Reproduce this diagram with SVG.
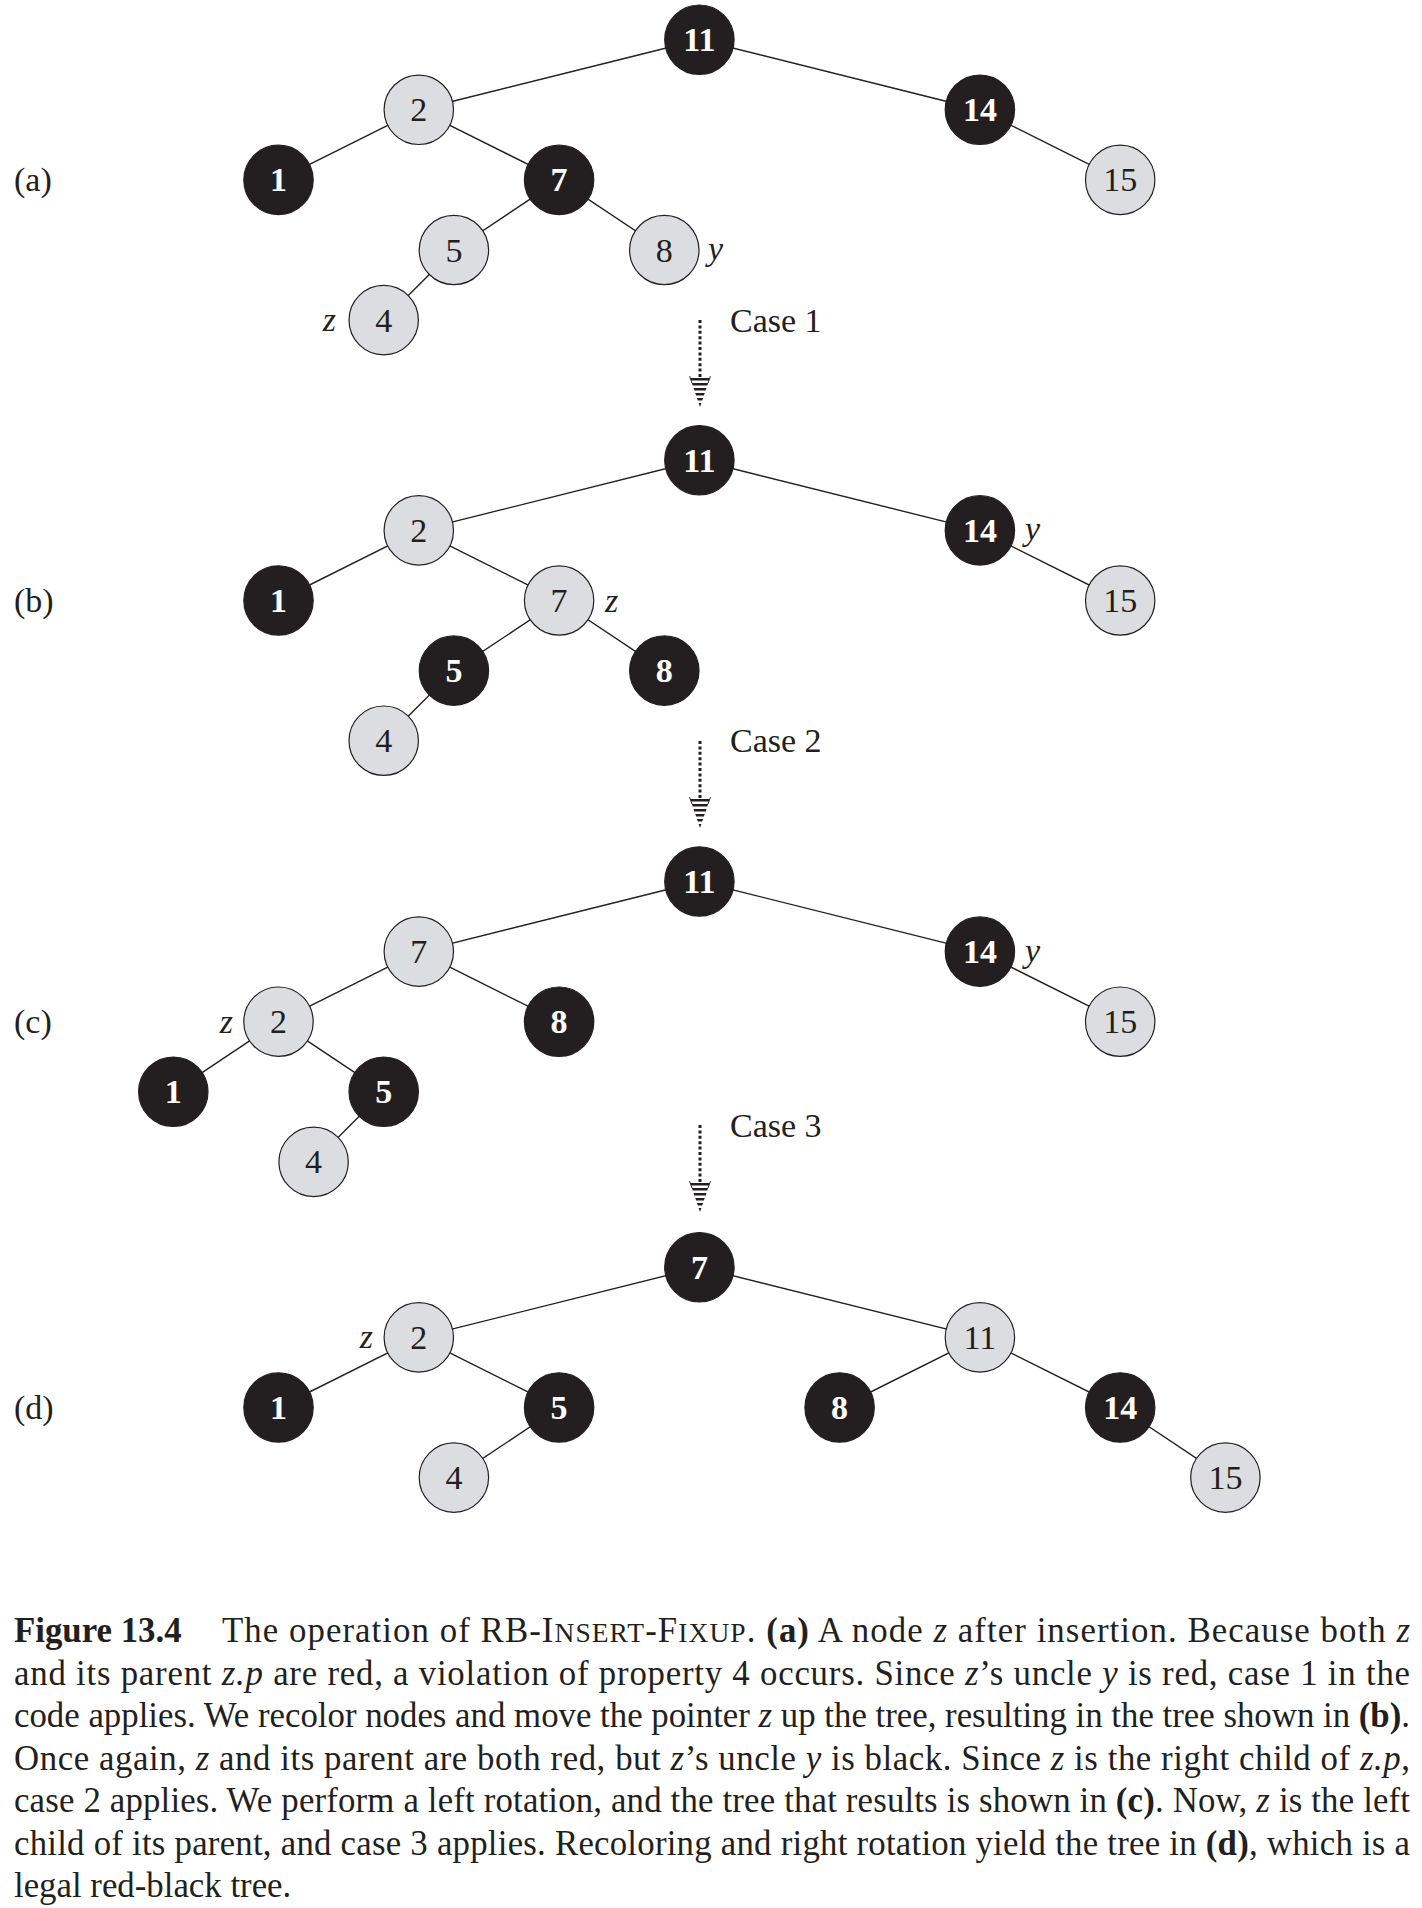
<svg xmlns="http://www.w3.org/2000/svg" xmlns:xlink="http://www.w3.org/1999/xlink" width="1422" height="1908" viewBox="0 0 1422 1908">
<style>
.e{stroke:#231f20;stroke-width:1.4;fill:none}
.r{fill:#dcdde0;stroke:#231f20;stroke-width:1.2}
.b{fill:#231f20;stroke:#231f20;stroke-width:1.2}
.rt{font-family:"Liberation Serif",serif;font-size:34px;fill:#231f20;text-anchor:middle}
.bt{font-family:"Liberation Serif",serif;font-size:34px;font-weight:bold;fill:#fff;text-anchor:middle}
.lab{font-family:"Liberation Serif",serif;font-size:34px;fill:#231f20}
.it{font-family:"Liberation Serif",serif;font-size:34px;font-style:italic;fill:#231f20}
.cap{font-family:"Liberation Serif",serif;font-size:34.8px;fill:#231f20}
.bo{font-weight:bold}
.i{font-style:italic}
.sc{font-size:27.5px}
.dot{stroke:#231f20;stroke-width:3;stroke-dasharray:3 2.4;fill:none}
.ah{fill:#231f20}
.barb{stroke:#231f20;stroke-width:0.9;fill:none}
</style>
<defs>
<g id="arrow">
<line class="dot" x1="0" y1="0" x2="0" y2="58"/>
<polygon class="ah" points="-9.82,58 9.82,58 8.98,60.5 -8.98,60.5"/>
<polygon class="ah" points="-8.13,63 8.13,63 7.28,65.5 -7.28,65.5"/>
<polygon class="ah" points="-6.44,68 6.44,68 5.59,70.5 -5.59,70.5"/>
<polygon class="ah" points="-4.74,73 4.74,73 3.9,75.5 -3.9,75.5"/>
<polygon class="ah" points="-3.05,78 3.05,78 2.2,80.5 -2.2,80.5"/>
<polygon class="ah" points="-1.35,83 1.35,83 0,87"/>
<path class="barb" d="M-10.5,56 L-8,63 M10.5,56 L8,63"/>
</g>
</defs>

<g id="connectors">
<!-- tree a -->
<line class="e" x1="699.4" y1="39.7" x2="418.8" y2="109.8"/>
<line class="e" x1="699.4" y1="39.7" x2="979.9" y2="109.8"/>
<line class="e" x1="418.8" y1="109.8" x2="278.5" y2="179.9"/>
<line class="e" x1="418.8" y1="109.8" x2="559.1" y2="179.9"/>
<line class="e" x1="979.9" y1="109.8" x2="1120.2" y2="179.9"/>
<line class="e" x1="559.1" y1="179.9" x2="453.9" y2="250"/>
<line class="e" x1="559.1" y1="179.9" x2="664.3" y2="250"/>
<line class="e" x1="453.9" y1="250" x2="383.7" y2="320.1"/>
<!-- tree b -->
<line class="e" x1="699.4" y1="460.3" x2="418.8" y2="530.4"/>
<line class="e" x1="699.4" y1="460.3" x2="979.9" y2="530.4"/>
<line class="e" x1="418.8" y1="530.4" x2="278.5" y2="600.5"/>
<line class="e" x1="418.8" y1="530.4" x2="559.1" y2="600.5"/>
<line class="e" x1="979.9" y1="530.4" x2="1120.2" y2="600.5"/>
<line class="e" x1="559.1" y1="600.5" x2="453.9" y2="670.6"/>
<line class="e" x1="559.1" y1="600.5" x2="664.3" y2="670.6"/>
<line class="e" x1="453.9" y1="670.6" x2="383.7" y2="740.7"/>
<!-- tree c -->
<line class="e" x1="699.4" y1="881.5" x2="418.8" y2="951.6"/>
<line class="e" x1="699.4" y1="881.5" x2="979.9" y2="951.6"/>
<line class="e" x1="418.8" y1="951.6" x2="278.5" y2="1021.7"/>
<line class="e" x1="418.8" y1="951.6" x2="559.1" y2="1021.7"/>
<line class="e" x1="979.9" y1="951.6" x2="1120.2" y2="1021.7"/>
<line class="e" x1="278.5" y1="1021.7" x2="173.3" y2="1091.8"/>
<line class="e" x1="278.5" y1="1021.7" x2="383.7" y2="1091.8"/>
<line class="e" x1="383.7" y1="1091.8" x2="313.6" y2="1161.9"/>
<!-- tree d -->
<line class="e" x1="699.4" y1="1267.3" x2="418.8" y2="1337.4"/>
<line class="e" x1="699.4" y1="1267.3" x2="979.9" y2="1337.4"/>
<line class="e" x1="418.8" y1="1337.4" x2="278.5" y2="1407.5"/>
<line class="e" x1="418.8" y1="1337.4" x2="559.1" y2="1407.5"/>
<line class="e" x1="979.9" y1="1337.4" x2="839.6" y2="1407.5"/>
<line class="e" x1="979.9" y1="1337.4" x2="1120.2" y2="1407.5"/>
<line class="e" x1="559.1" y1="1407.5" x2="453.9" y2="1477.6"/>
<line class="e" x1="1120.2" y1="1407.5" x2="1225.4" y2="1477.6"/>
<!-- transition arrows -->
<use xlink:href="#arrow" href="#arrow" x="700" y="320"/>
<use xlink:href="#arrow" href="#arrow" x="700" y="741"/>
<use xlink:href="#arrow" href="#arrow" x="700" y="1125"/>
</g>

<!-- tree a nodes -->
<g id="a11"><circle class="b" cx="699.4" cy="39.7" r="34.7"/><text class="bt" x="699.4" y="51.2">11</text></g>
<g id="a2"><circle class="r" cx="418.8" cy="109.8" r="34.7"/><text class="rt" x="418.8" y="121.3">2</text></g>
<g id="a14"><circle class="b" cx="979.9" cy="109.8" r="34.7"/><text class="bt" x="979.9" y="121.3">14</text></g>
<g id="a1"><circle class="b" cx="278.5" cy="179.9" r="34.7"/><text class="bt" x="278.5" y="191.4">1</text></g>
<g id="a7"><circle class="b" cx="559.1" cy="179.9" r="34.7"/><text class="bt" x="559.1" y="191.4">7</text></g>
<g id="a15"><circle class="r" cx="1120.2" cy="179.9" r="34.7"/><text class="rt" x="1120.2" y="191.4">15</text></g>
<g id="a5"><circle class="r" cx="453.9" cy="250" r="34.7"/><text class="rt" x="453.9" y="261.5">5</text></g>
<g id="a8"><circle class="r" cx="664.3" cy="250" r="34.7"/><text class="rt" x="664.3" y="261.5">8</text></g>
<g id="a4"><circle class="r" cx="383.7" cy="320.1" r="34.7"/><text class="rt" x="383.7" y="331.6">4</text></g>

<!-- tree b nodes -->
<g id="b11"><circle class="b" cx="699.4" cy="460.3" r="34.7"/><text class="bt" x="699.4" y="471.8">11</text></g>
<g id="b2"><circle class="r" cx="418.8" cy="530.4" r="34.7"/><text class="rt" x="418.8" y="541.9">2</text></g>
<g id="b14"><circle class="b" cx="979.9" cy="530.4" r="34.7"/><text class="bt" x="979.9" y="541.9">14</text></g>
<g id="b1"><circle class="b" cx="278.5" cy="600.5" r="34.7"/><text class="bt" x="278.5" y="612">1</text></g>
<g id="b7"><circle class="r" cx="559.1" cy="600.5" r="34.7"/><text class="rt" x="559.1" y="612">7</text></g>
<g id="b15"><circle class="r" cx="1120.2" cy="600.5" r="34.7"/><text class="rt" x="1120.2" y="612">15</text></g>
<g id="b5"><circle class="b" cx="453.9" cy="670.6" r="34.7"/><text class="bt" x="453.9" y="682.1">5</text></g>
<g id="b8"><circle class="b" cx="664.3" cy="670.6" r="34.7"/><text class="bt" x="664.3" y="682.1">8</text></g>
<g id="b4"><circle class="r" cx="383.7" cy="740.7" r="34.7"/><text class="rt" x="383.7" y="752.2">4</text></g>

<!-- tree c nodes -->
<g id="c11"><circle class="b" cx="699.4" cy="881.5" r="34.7"/><text class="bt" x="699.4" y="893">11</text></g>
<g id="c7"><circle class="r" cx="418.8" cy="951.6" r="34.7"/><text class="rt" x="418.8" y="963.1">7</text></g>
<g id="c14"><circle class="b" cx="979.9" cy="951.6" r="34.7"/><text class="bt" x="979.9" y="963.1">14</text></g>
<g id="c2"><circle class="r" cx="278.5" cy="1021.7" r="34.7"/><text class="rt" x="278.5" y="1033.2">2</text></g>
<g id="c8"><circle class="b" cx="559.1" cy="1021.7" r="34.7"/><text class="bt" x="559.1" y="1033.2">8</text></g>
<g id="c15"><circle class="r" cx="1120.2" cy="1021.7" r="34.7"/><text class="rt" x="1120.2" y="1033.2">15</text></g>
<g id="c1"><circle class="b" cx="173.3" cy="1091.8" r="34.7"/><text class="bt" x="173.3" y="1103.3">1</text></g>
<g id="c5"><circle class="b" cx="383.7" cy="1091.8" r="34.7"/><text class="bt" x="383.7" y="1103.3">5</text></g>
<g id="c4"><circle class="r" cx="313.6" cy="1161.9" r="34.7"/><text class="rt" x="313.6" y="1173.4">4</text></g>

<!-- tree d nodes -->
<g id="d7"><circle class="b" cx="699.4" cy="1267.3" r="34.7"/><text class="bt" x="699.4" y="1278.8">7</text></g>
<g id="d2"><circle class="r" cx="418.8" cy="1337.4" r="34.7"/><text class="rt" x="418.8" y="1348.9">2</text></g>
<g id="d11"><circle class="r" cx="979.9" cy="1337.4" r="34.7"/><text class="rt" x="979.9" y="1348.9">11</text></g>
<g id="d1"><circle class="b" cx="278.5" cy="1407.5" r="34.7"/><text class="bt" x="278.5" y="1419">1</text></g>
<g id="d5"><circle class="b" cx="559.1" cy="1407.5" r="34.7"/><text class="bt" x="559.1" y="1419">5</text></g>
<g id="d8"><circle class="b" cx="839.6" cy="1407.5" r="34.7"/><text class="bt" x="839.6" y="1419">8</text></g>
<g id="d14"><circle class="b" cx="1120.2" cy="1407.5" r="34.7"/><text class="bt" x="1120.2" y="1419">14</text></g>
<g id="d4"><circle class="r" cx="453.9" cy="1477.6" r="34.7"/><text class="rt" x="453.9" y="1489.1">4</text></g>
<g id="d15"><circle class="r" cx="1225.4" cy="1477.6" r="34.7"/><text class="rt" x="1225.4" y="1489.1">15</text></g>

<!-- panel labels -->
<g id="labels">
<text class="lab" x="14" y="191.4">(a)</text>
<text class="lab" x="14" y="612">(b)</text>
<text class="lab" x="14" y="1033.2">(c)</text>
<text class="lab" x="14" y="1419">(d)</text>
<text class="it" x="708" y="260">y</text>
<text class="it" x="336" y="331" text-anchor="end">z</text>
<text class="it" x="605" y="611.5">z</text>
<text class="it" x="1025" y="540.4">y</text>
<text class="it" x="1025" y="961.6">y</text>
<text class="it" x="233" y="1032.7" text-anchor="end">z</text>
<text class="it" x="373" y="1348.4" text-anchor="end">z</text>
<text class="lab" x="730" y="331.7">Case 1</text>
<text class="lab" x="730" y="751.7">Case 2</text>
<text class="lab" x="730" y="1136.7">Case 3</text>
</g>

<!-- caption -->
<g id="caption">
<text class="cap bo" x="14" y="1642">Figure 13.4</text>
<text class="cap" x="222" y="1642" textLength="1188" lengthAdjust="spacing">The operation of RB-I<tspan class="sc">NSERT</tspan>-F<tspan class="sc">IXUP</tspan>. <tspan class="bo">(a)</tspan> A node <tspan class="i">z</tspan> after insertion.  Because both <tspan class="i">z</tspan></text>
<text class="cap" x="14" y="1684.5" textLength="1396" lengthAdjust="spacing">and its parent <tspan class="i">z.p</tspan> are red, a violation of property 4 occurs.  Since <tspan class="i">z</tspan>’s uncle <tspan class="i">y</tspan> is red, case 1 in the</text>
<text class="cap" x="14" y="1727" textLength="1396" lengthAdjust="spacing">code applies. We recolor nodes and move the pointer <tspan class="i">z</tspan> up the tree, resulting in the tree shown in <tspan class="bo">(b)</tspan>.</text>
<text class="cap" x="14" y="1769.5" textLength="1396" lengthAdjust="spacing">Once again, <tspan class="i">z</tspan> and its parent are both red, but <tspan class="i">z</tspan>’s uncle <tspan class="i">y</tspan> is black.  Since <tspan class="i">z</tspan> is the right child of <tspan class="i">z.p</tspan>,</text>
<text class="cap" x="14" y="1812" textLength="1396" lengthAdjust="spacing">case 2 applies. We perform a left rotation, and the tree that results is shown in <tspan class="bo">(c)</tspan>. Now, <tspan class="i">z</tspan> is the left</text>
<text class="cap" x="14" y="1854.5" textLength="1396" lengthAdjust="spacing">child of its parent, and case 3 applies. Recoloring and right rotation yield the tree in <tspan class="bo">(d)</tspan>, which is a</text>
<text class="cap" x="14" y="1897">legal red-black tree.</text>
</g>
</svg>
